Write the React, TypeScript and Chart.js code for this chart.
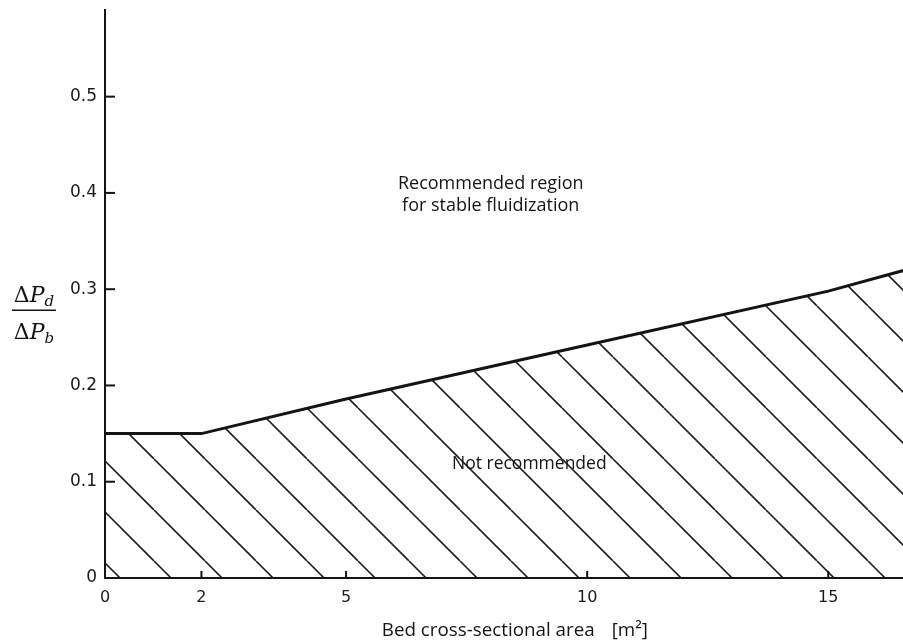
import React, { useEffect, useRef } from "react";
import { Chart, registerables } from "chart.js";

Chart.register(...registerables);

// ---- data ----
const areaX = [0, 2, 5, 10, 15, 16.6];
const ratioY = [0.15, 0.15, 0.186, 0.242, 0.298, 0.32];
const xTickValues = [0, 2, 5, 10, 15];
const yTickValues = [0, 0.1, 0.2, 0.3, 0.4, 0.5];
const xMin = 0;
const xMax = 16.55;
const yMin = 0;
const yMax = 0.59;
const xTitle = "Bed cross-sectional area";
const xUnit = "[m²]";
const recommendedText = ["Recommended region", "for stable fluidization"];
const recommendedAt = [8.0, 0.398];
const notRecommendedText = "Not recommended";
const notRecommendedAt = [8.8, 0.118];
const xTitleCenterAt = 8.5;
const yTitleAt = 0.278;

const INK = "#141414";
const TEXT = "#141414";

function makeHatch(): CanvasPattern | string {
  const s = 51;
  const off = 1;
  const c = document.createElement("canvas");
  c.width = s;
  c.height = s;
  const g = c.getContext("2d");
  if (!g) return "transparent";
  g.strokeStyle = "#1a1a1a";
  g.lineWidth = 1.6;
  for (const k of [-1, 0, 1]) {
    g.beginPath();
    g.moveTo(k * s + off, 0);
    g.lineTo(k * s + off + s, s);
    g.stroke();
  }
  return g.createPattern(c, "repeat") || "transparent";
}

const extrasPlugin = {
  id: "extras",
  afterDraw(chart: any) {
    const ctx: CanvasRenderingContext2D = chart.ctx;
    const xs = chart.scales.x;
    const ys = chart.scales.y;
    const area = chart.chartArea;
    ctx.save();

    // inward tick marks
    ctx.strokeStyle = INK;
    ctx.lineWidth = 2;
    for (const v of yTickValues) {
      if (v === 0) continue;
      const py = ys.getPixelForValue(v);
      ctx.beginPath();
      ctx.moveTo(area.left, py);
      ctx.lineTo(area.left + 10, py);
      ctx.stroke();
    }
    for (const v of xTickValues) {
      if (v === 0) continue;
      const px = xs.getPixelForValue(v);
      ctx.beginPath();
      ctx.moveTo(px, area.bottom);
      ctx.lineTo(px, area.bottom - 7);
      ctx.stroke();
    }

    // annotations
    ctx.fillStyle = TEXT;
    ctx.font = "18px 'Open Sans'";
    ctx.textAlign = "center";
    ctx.textBaseline = "middle";
    const rx = xs.getPixelForValue(recommendedAt[0]);
    const ry = ys.getPixelForValue(recommendedAt[1]);
    ctx.fillText(recommendedText[0], rx, ry - 11);
    ctx.fillText(recommendedText[1], rx, ry + 11);
    ctx.font = "17.5px 'Open Sans'";
    ctx.fillText(
      notRecommendedText,
      xs.getPixelForValue(notRecommendedAt[0]),
      ys.getPixelForValue(notRecommendedAt[1])
    );

    // x axis title
    ctx.font = "18.8px 'Open Sans'";
    const gap = 17;
    const w1 = ctx.measureText(xTitle).width;
    const w2 = ctx.measureText(xUnit).width;
    const total = w1 + gap + w2;
    const cx = xs.getPixelForValue(xTitleCenterAt);
    ctx.textAlign = "left";
    ctx.fillText(xTitle, cx - total / 2, area.bottom + 53);
    ctx.fillText(xUnit, cx - total / 2 + w1 + gap, area.bottom + 53);

    // y axis title as fraction dP_d / dP_b
    const fx = area.left - 71;
    const fy = ys.getPixelForValue(yTitleAt);
    const drawPart = (sub: string, baseY: number) => {
      ctx.font = "22px 'DejaVu Serif'";
      const wD = ctx.measureText("Δ").width;
      ctx.font = "italic 22px 'DejaVu Serif'";
      const wP = ctx.measureText("P").width;
      ctx.font = "italic 15px 'DejaVu Serif'";
      const wS = ctx.measureText(sub).width;
      const tw = wD + wP + wS;
      let x0 = fx - tw / 2;
      ctx.textAlign = "left";
      ctx.textBaseline = "alphabetic";
      ctx.font = "22px 'DejaVu Serif'";
      ctx.fillText("Δ", x0, baseY);
      x0 += wD;
      ctx.font = "italic 22px 'DejaVu Serif'";
      ctx.fillText("P", x0, baseY);
      x0 += wP;
      ctx.font = "italic 15px 'DejaVu Serif'";
      ctx.fillText(sub, x0, baseY + 4);
    };
    drawPart("d", fy - 8);
    drawPart("b", fy + 29);
    ctx.strokeStyle = TEXT;
    ctx.lineWidth = 1.5;
    ctx.beginPath();
    ctx.moveTo(fx - 22, fy);
    ctx.lineTo(fx + 22, fy);
    ctx.stroke();

    ctx.restore();
  },
};

export default function App() {
  const canvasRef = useRef<HTMLCanvasElement | null>(null);

  useEffect(() => {
    document.body.style.margin = "0";
    const canvas = canvasRef.current;
    if (!canvas) return;
    const hatch = makeHatch();
    const chart = new Chart(canvas, {
      type: "line",
      data: {
        datasets: [
          {
            data: areaX.map((x, i) => ({ x, y: ratioY[i] })),
            borderColor: INK,
            borderWidth: 3,
            pointRadius: 0,
            tension: 0,
            fill: "origin",
            backgroundColor: hatch as any,
          },
        ],
      },
      options: {
        animation: false,
        responsive: false,
        devicePixelRatio: 1,
        layout: { padding: { top: 10, right: 0, left: 0, bottom: 0 } },
        plugins: {
          legend: { display: false },
          tooltip: { enabled: false },
        },
        scales: {
          x: {
            type: "linear",
            min: xMin,
            max: xMax,
            afterBuildTicks: (s: any) => {
              s.ticks = xTickValues.map((value) => ({ value }));
            },
            afterFit: (s: any) => {
              s.height = 63;
              s.paddingLeft = 0;
              s.paddingRight = 0;
            },
            grid: { display: false, drawTicks: false },
            border: { display: true, color: INK, width: 2 },
            ticks: {
              padding: 10,
              color: "#1a1a1a",
              font: { family: "'DejaVu Sans'", size: 16 },
              maxRotation: 0,
              callback: (v: any) => String(v),
            },
          },
          y: {
            type: "linear",
            min: yMin,
            max: yMax,
            afterBuildTicks: (s: any) => {
              s.ticks = yTickValues.map((value) => ({ value }));
            },
            afterFit: (s: any) => {
              s.width = 105;
              s.paddingTop = 0;
              s.paddingBottom = 0;
            },
            grid: { display: false, drawTicks: false },
            border: { display: true, color: INK, width: 2 },
            ticks: {
              padding: 8,
              color: "#1a1a1a",
              font: { family: "'DejaVu Sans'", size: 17 },
              callback: (v: any) => (Number(v) === 0 ? "0" : Number(v).toFixed(1)),
            },
          },
        },
      },
      plugins: [extrasPlugin],
    });
    return () => chart.destroy();
  }, []);

  return (
    <div style={{ width: 903, height: 641, background: "#fff" }}>
      <canvas ref={canvasRef} width={903} height={641} style={{ display: "block" }} />
    </div>
  );
}
